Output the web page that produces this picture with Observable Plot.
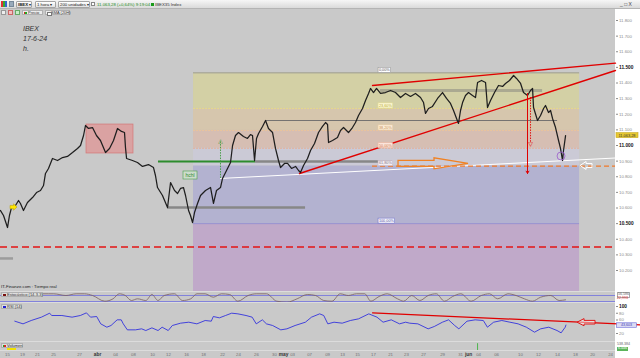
<!DOCTYPE html>
<html><head><meta charset="utf-8">
<script src="https://cdn.jsdelivr.net/npm/d3@7"></script>
<script src="https://cdn.jsdelivr.net/npm/@observablehq/plot@0.6"></script>
<style>
html,body{margin:0;padding:0;background:#c9c9c9;}
#root{position:relative;width:640px;height:358px;background:#c9c9c9;overflow:hidden;font-family:"Liberation Sans",Arial,sans-serif;}
.abs{position:absolute;}
.sep{position:absolute;left:0;width:615px;height:1px;background:#dcdcdc;}
.btn{position:absolute;top:1px;height:7px;border:1px solid #a4a4a4;background:linear-gradient(#ffffff,#e2e2e2);border-radius:1px;box-sizing:border-box;font-size:4.3px;line-height:5px;padding:0 1px;color:#222;white-space:nowrap;}
.t{position:absolute;white-space:nowrap;font-size:4.3px;line-height:5px;color:#333;}
.plbl{position:absolute;left:1px;height:5px;box-sizing:border-box;border:1px solid #b0b0b0;background:#dedede;font-size:4px;line-height:3.4px;padding:0 1px 0 5px;color:#333;white-space:nowrap;}
.plbl i{position:absolute;left:1px;top:0.5px;width:2.5px;height:2.5px;}
.ttl{position:absolute;left:23px;font:italic 7px "Liberation Sans",Arial,sans-serif;color:#333;}
</style></head>
<body><div id="root">
<div class="abs" style="left:615px;top:9px;width:25px;height:349px;background:#fff"></div>
<div id="main" class="abs" style="left:0;top:9px"></div>
<div id="stoch" class="abs" style="left:0;top:291px"></div>
<div id="rsi" class="abs" style="left:0;top:303px"></div>
<div id="vol" class="abs" style="left:0;top:342px"></div>
<div class="sep" style="top:291px"></div>
<div class="sep" style="top:302px"></div>
<div class="sep" style="top:341px"></div>
<div class="sep" style="top:350px"></div>

<!-- toolbar -->
<div class="abs" style="left:0;top:0;width:640px;height:9px;background:linear-gradient(#f6f6f6,#dadada);border-bottom:1px solid #b4b4b4;box-sizing:border-box"></div>
<div class="abs" style="left:1px;top:1px;width:6px;height:6px;background:linear-gradient(90deg,#d33 0 33%,#3a3 33% 66%,#36c 66%)"></div>
<div class="abs" style="left:9px;top:1px;width:5px;height:6px;background:#9ab;border:1px solid #789;box-sizing:border-box"></div>
<div class="btn" style="left:16px;width:16px"><b>IBEX</b> ▾</div>
<div class="btn" style="left:35px;width:21px">1 hora ▾</div>
<div class="btn" style="left:58px;width:32px">200 unidades ▾</div>
<div class="abs" style="left:91px;top:2px;width:4px;height:4px;background:#fff;border:1px solid #888;box-sizing:border-box"></div>
<div class="t" style="left:97px;top:2px;color:#1d8c1d">11.063,28 (+0,64%) 9:19:04</div>
<div class="abs" style="left:151px;top:3px;width:3px;height:3px;background:#1a9a1a"></div>
<div class="t" style="left:155px;top:2px">IBEX35 Index</div>
<div class="t" style="left:620px;top:1.5px;font-size:5px;color:#444">_ □ X</div>
<div class="abs" style="left:1px;top:10px;width:5px;height:5px;background:#eee;border:1px solid #999;box-sizing:border-box"></div>
<div class="abs" style="left:8px;top:10px;width:5px;height:5px;background:#f3c0c0;border:1px solid #c66;box-sizing:border-box"></div>
<div class="abs" style="left:15px;top:10px;width:5px;height:5px;background:#c8ecc8;border:1px solid #6a6;box-sizing:border-box"></div>
<div class="plbl" style="top:10px;left:22px;width:21px;background:#ececec"><i style="background:linear-gradient(90deg,#d22 50%,#2a2 50%)"></i>Precio</div>
<div class="plbl" style="top:10px;left:45px;width:25px;background:#ececec"><i style="background:#fff;border:0.5px solid #777"></i>SMA (20H)</div>

<div class="ttl" style="top:25px">IBEX</div>
<div class="ttl" style="top:35px">17-6-24</div>
<div class="ttl" style="top:45px">h.</div>

<div class="t" style="left:1px;top:284px;font-size:4.3px;color:#222">IT-Finanze.com : Tiempo real</div>
<div class="plbl" style="top:292px;width:42px"><i style="background:#7a1010"></i>Estocástico (14-3-3)</div>
<div class="plbl" style="top:304px;width:21px"><i style="background:#2020d0"></i>RSI (14)</div>
<div class="plbl" style="top:343px;width:22px"><i style="background:linear-gradient(90deg,#2a2 50%,#d22 50%)"></i>Volumen</div>
<div class="abs" style="left:7px;top:348px;width:9px;height:2px;background:#f2e200"></div>

<div class="t" style="left:617px;top:292px;font-size:3.6px;color:#666;border:0.5px solid #aaa;line-height:3.6px">56,586</div>
<div class="t" style="left:617px;top:297px;font-size:3.6px;color:#d22;line-height:3.6px">22,993</div>
<div class="t" style="left:617px;top:343px;font-size:3.6px;color:#666;line-height:3.6px">538.384</div>
<div class="t" style="left:617px;top:347px;font-size:3.6px;color:#fff;background:#5bb55b;line-height:3.6px;padding:0 1px">6.446</div>
</div>
<script>
// ================= DATA =================
// price path (hourly IBEX); x = trading-day index
const priceDay = [
 1.21,1.55,2.00,2.22,2.45,2.90,3.24,3.46,3.80,4.25,
 4.82,5.27,5.72,6.06,6.28,6.62,7.07,7.64,8.20,8.76,
 9.33,9.89,10.23,10.57,10.79,11.13,11.58,12.03,12.48,13.05,
 13.50,13.95,14.40,14.85,15.19,15.30,15.42,16.09,16.65,17.22,
 17.89,18.46,18.68,18.91,19.47,20.04,20.38,20.83,21.17,21.50,
 21.84,22.07,22.41,22.63,22.86,23.08,23.42,23.76,24.32,24.89,
 25.22,25.56,26.01,26.24,26.69,27.14,27.37,27.70,28.04,28.60,
 29.05,29.39,29.62,29.85,30.07,30.30,30.75,31.09,31.42,31.88,
 32.21,32.55,32.78,33.23,33.57,34.02,34.47,34.81,35.03,35.37,
 35.82,36.16,36.61,37.06,37.51,37.85,38.08,38.19,38.64,39.20,
 39.54,39.88,40.44,40.89,41.23,41.57,42.02,42.36,42.70,42.92,
 43.26,43.60,44.05,44.61,45.18,45.74,46.30,46.87,47.43,47.99,
 48.56,48.90,49.12,49.46,49.91,50.48,51.04,51.49,51.94,52.28,
 52.62,52.84,53.07,53.30,53.63,53.97,54.42,54.76,54.99,55.44,
 55.89,56.11,56.45,56.90,57.35,57.81,58.14,58.59,59.05,59.38,
 59.84,60.17,60.62,60.96,61.19,61.30,61.75,62.09,62.43,62.65,
 62.99,63.22,63.44,63.78,64.12,64.34,64.57,64.68,64.91];
const priceClose = [
 10584,10552,10475,10552,10603,10616,10648,10629,10584,10635,
 10667,10699,10712,10744,10821,10853,10917,10904,10923,10930,
 10955,10981,11000,11064,11128,11109,11115,11064,11032,10955,
 10981,11032,11109,11090,11083,10987,10917,10904,10891,10866,
 10878,10859,10808,10731,10680,10603,10763,10712,10693,10725,
 10731,10680,10584,10552,10507,10571,10629,10680,10712,10731,
 10629,10712,10731,10789,10840,10891,11000,11064,11083,11058,
 11045,11070,11064,10904,11045,11077,11122,11160,11109,11083,
 10981,10904,10859,10885,10885,10853,10866,10840,10827,10872,
 10917,10968,11013,11083,11122,11147,11134,11019,11032,11051,
 11096,11115,11083,11115,11147,11192,11237,11288,11333,11365,
 11339,11365,11333,11339,11352,11339,11307,11333,11314,11333,
 11307,11275,11205,11237,11250,11301,11339,11301,11269,11224,
 11173,11141,11224,11275,11320,11339,11320,11307,11403,11416,
 11403,11243,11288,11339,11384,11378,11397,11416,11448,11429,
 11397,11339,11320,11352,11365,11243,11160,11192,11237,11256,
 11211,11224,11173,11115,11032,10981,10904,10968,11063];
const lastPrice = 11063.28;

const priceTicks = [10200,10300,10400,10500,10600,10700,10800,10900,11000,11100,11200,11300,11400,11500,11600,11700,11800];
const xTickDay = [2.00,3.69,5.38,7.19,10.12,12.15,14.18,16.20,18.35,20.15,22.18,24.10,26.24,28.04,30.07,32.10,33.12,34.13,36.05,38.08,39.77,41.46,43.26,45.18,46.98,48.90,51.04,53.07,53.97,55.10,57.13,59.83,61.86,64.00,66.03,67.95,69.98];
const xTickLabel = ["15","19","21","25","27","abr","04","08","10","12","16","18","22","24","26","30","may","03","07","09","13","15","17","21","23","27","29","31","jun","04","06","10","12","14","18","20","24"];

// Fibonacci retracement
const fibHigh = 11465, fibLow = 10500;
const fibLevels = [0, 0.236, 0.382, 0.5, 0.618, 1, 1.618];
const fibLabels = ["0,00%","23,60%","38,20%","50,00%","61,80%","100,00%"];
const fibStartDay = 22.97, fibEndDay = 66.49, fibLabelDay = 43.83;

// annotations (day, price)
const boxDays = [10.91, 16.20], boxPrices = [10949, 11134];
const hchlPrice = 10898, hchlDays = [19.02, 29.96, 45.40], hchlLabelAt = [22.63, 10808];
const supportPrice = 10603, supportDays = [20.04, 35.60];
const resistPrice = 11160, resistDays = [31.09, 64.01];
const bandPrice = 11352, bandDays = [44.05, 62.32];
const lowPrice = 10277, lowDays = [1.21, 2.68];
const upperWedgeDay = [43.15, 70.54], upperWedgePrice = [11384, 11527];
const lowerWedgeDay = [34.92, 70.54], lowerWedgePrice = [10821, 11480];
const whiteLineDay = [26.01, 70.54], whiteLinePrice = [10789, 10920];
const redDashPrice = 10350;
const orangeDashDays = [43.15, 70.54];
const greenArrow = {day: 26.01, from: 10789, to: 11032};
const redArrow = {day: 60.62, from: 11333, to: 10821};
const redDotArrow = {day: 60.96, from: 11307, to: 11013};
const circleAt = [64.40, 10933];
const orangeArrow = {from: 46.08, to: 53.97, at: 10883};
const whiteArrow = {from: 67.95, to: 66.60, at: 10869};
const yellowArrow = {from: 2.34, to: 3.13, at: 10603};

// Stochastic (14-3-3)
const stochDay = [6.05,7.21,8.59,9.74,10.67,11.59,12.97,13.90,14.59,15.28,15.97,16.66,17.59,18.28,18.97,19.66,20.82,21.74,22.66,23.35,24.28,25.20,26.12,27.04,27.97,29.12,30.04,31.19,32.35,33.50,34.65,35.81,36.73,37.65,38.58,39.50,40.42,41.34,42.27,42.96,43.88,44.80,45.96,46.65,47.57,48.49,49.42,50.34,51.26,52.18,53.11,54.26,55.41,56.34,57.26,58.41,59.33,60.26,61.18,62.10,63.25,64.18,64.91];
const stochValue = [97,97,80,97,97,80,23,47,97,80,30,47,30,90,30,80,97,30,47,97,97,63,97,90,23,80,97,97,23,13,47,90,80,30,23,97,80,97,97,23,70,97,47,23,80,30,80,97,23,70,97,23,80,97,47,97,80,47,23,63,80,30,37];
const stochBands = [20, 80];

// RSI (14)
const rsiDay = [2.82,3.75,4.67,5.82,6.75,6.98,8.13,9.28,10.21,10.90,11.36,12.05,12.51,13.20,13.67,14.36,14.82,15.05,15.51,16.43,17.12,17.59,18.28,18.97,19.43,20.12,20.58,21.51,22.43,23.35,24.28,24.97,25.20,25.89,26.58,27.27,27.97,28.89,29.58,30.04,30.73,31.19,31.89,32.81,33.50,34.42,35.58,36.27,37.19,37.65,38.11,38.81,39.73,40.65,41.57,42.73,43.65,44.34,45.26,46.19,46.88,47.34,48.26,49.42,50.11,51.03,51.72,52.41,52.88,53.80,54.72,55.64,56.10,56.80,57.72,58.64,59.56,60.49,61.41,62.10,63.02,63.95,64.41,64.87,64.95];
const rsiValue = [56.5,48.6,58.5,68.4,80.2,73.3,73.3,68.4,73.3,81.2,68.4,70.3,48.6,38.7,43.7,60.5,60.5,48.6,30.8,30.8,33.8,28.8,36.7,28.8,38.7,28.8,43.7,50.6,53.5,48.6,58.5,56.5,70.3,66.4,73.3,80.2,78.2,73.3,68.4,48.6,60.5,48.6,43.7,30.8,33.8,43.7,53.5,68.4,78.2,73.3,48.6,53.5,50.6,58.5,63.4,78.2,68.4,53.5,60.5,48.6,53.5,50.6,48.6,33.8,40.7,53.5,60.5,43.7,33.8,56.5,60.5,58.5,38.7,53.5,58.5,53.5,48.6,38.7,23.9,33.8,38.7,28.8,21.9,38.7,45.0];
const rsiTicks = [20, 60, 80, 100];
const rsiLast = 43.603;
const rsiTrendDay = [43.15, 73.36], rsiTrendValue = [81.3, 45.2];
const rsiArrow = {from: 68.29, to: 66.26, at: 52};

// Volume
const volDay = [54.99], volValue = [538384];

// ================= STYLE / SCALES =================
const xDomain = [1.21, 70.54];
const yDomain = [10065.6, 11870.4];
const fibFill = ["#d3d0a5","#d6c6ad","#d6beb3","#cbcad6","#b3b2d0","#c0a9c9"];
const baseStyle = "background:transparent;overflow:visible;font-size:4.3px;font-family:'Liberation Sans',Arial,sans-serif;color:#8a8a8a;";
const fmtPrice = d => d3.format(",")(d).replace(/,/g, ".");
const fmtComma = (v, n) => d3.format("." + n + "f")(v).replace(".", ",");

const rows = (xs, ys) => xs.map((x, i) => ({x, y: ys[i]}));
const fibPrice = lv => fibHigh - lv * (fibHigh - fibLow);

function blockArrow({from, to, at, shaft, head, headLen, fill, stroke, sw = 0.9}) {
  return (index, scales) => {
    const X0 = scales.x(from), X1 = scales.x(to), Y = scales.y(at);
    const s = X1 > X0 ? 1 : -1;
    const hb = X1 - s * headLen;
    const p = [[X0, Y - shaft], [hb, Y - shaft], [hb, Y - head], [X1, Y], [hb, Y + head], [hb, Y + shaft], [X0, Y + shaft]];
    return d3.create("svg:path")
      .attr("d", "M" + p.map(q => q.join(",")).join("L") + "Z")
      .attr("fill", fill).attr("stroke", stroke).attr("stroke-width", sw)
      .attr("stroke-linejoin", "miter").node();
  };
}
function boxLabels(items) {
  return (index, scales) => {
    const g = d3.create("svg:g");
    for (const it of items) {
      const fs = it.fs || 4;
      const h = it.h || 5;
      const X = scales.x(it.x) + (it.dx || 0);
      const Y = scales.y(it.y) + (it.dy || 0);
      const W = it.w || (it.text.length * fs * 0.55 + 2);
      const top = it.center ? Y - h / 2 : Y - h;
      const left = it.middle ? X - W / 2 : X;
      g.append("rect").attr("x", left).attr("y", top).attr("width", W).attr("height", h)
        .attr("fill", it.fill).attr("stroke", it.stroke).attr("stroke-width", 0.6);
      g.append("text").attr("x", left + W / 2).attr("y", top + h / 2).attr("dy", "0.36em")
        .attr("text-anchor", "middle").attr("font-size", fs).attr("fill", it.color)
        .attr("font-weight", it.weight || "normal").text(it.text);
    }
    return g.node();
  };
}
function styleTexts(svg, boldSet, boldColor) {
  svg.querySelectorAll("text").forEach(t => {
    if (boldSet.has(t.textContent)) { t.style.fontWeight = "bold"; t.style.fill = boldColor; t.style.fontSize = "4.8px"; }
  });
}

// ================= MAIN PRICE PANEL =================
const priceRows = priceDay.map((d, i) => ({day: d, close: priceClose[i]}));
const fibBands = fibLevels.slice(0, -1).map((lv, i) => ({
  top: fibPrice(lv),
  bottom: Math.max(fibPrice(fibLevels[i + 1]), yDomain[0]),
  fill: fibFill[i]
}));
const fibLabelStyle = [
  {fill: "#ffffff", stroke: "#9a9a9a", color: "#555"},
  {fill: "#fbf8d8", stroke: "#e8e090", color: "#b8a830"},
  {fill: "#fbeedc", stroke: "#eccca0", color: "#c89050"},
  {fill: "#fbe6dc", stroke: "#eeb8a0", color: "#d07850"},
  {fill: "#f3eef3", stroke: "#c8b8c8", color: "#8a7a8a"},
  {fill: "#ffffff", stroke: "#7070c8", color: "#4646a0"}
];
const fibLabelItems = fibLabels.map((t, i) => ({
  x: fibLabelDay, y: fibPrice(fibLevels[i]), text: t, fs: 3.8, h: 5, ...fibLabelStyle[i]
}));

const main = Plot.plot({
  width: 640, height: 282,
  marginTop: 0, marginBottom: 0, marginLeft: 0, marginRight: 25,
  style: baseStyle,
  x: {domain: xDomain, axis: null},
  y: {domain: yDomain, axis: "right", ticks: priceTicks, tickFormat: fmtPrice, tickSize: 2, tickPadding: 1.5, label: null},
  color: {type: "identity"},
  marks: [
    Plot.rect(fibBands, {x1: fibStartDay, x2: fibEndDay, y1: "bottom", y2: "top", fill: "fill"}),
    Plot.ruleY([fibPrice(0)], {x1: fibStartDay, x2: fibEndDay, stroke: "#8e8e8e", strokeWidth: 0.8}),
    Plot.ruleY([fibPrice(0.236)], {x1: fibStartDay, x2: fibEndDay, stroke: "#ece27a", strokeWidth: 0.7, strokeDasharray: "2,1"}),
    Plot.ruleY([fibPrice(0.382)], {x1: fibStartDay, x2: fibEndDay, stroke: "#f2c690", strokeWidth: 0.7, strokeDasharray: "2,1"}),
    Plot.ruleY([fibPrice(0.5)], {x1: fibStartDay, x2: fibEndDay, stroke: "#f0a478", strokeWidth: 0.7, strokeDasharray: "2,1"}),
    Plot.ruleY([fibPrice(1)], {x1: fibStartDay, x2: fibEndDay, stroke: "#8c8cd2", strokeWidth: 0.8}),
    Plot.rect([0], {x1: boxDays[0], x2: boxDays[1], y1: boxPrices[0], y2: boxPrices[1], fill: "#daa2a2", stroke: "#d47c7c", strokeWidth: 0.8}),
    Plot.ruleY([lowPrice], {x1: lowDays[0], x2: lowDays[1], stroke: "#9c9c9c", strokeWidth: 2.5}),
    Plot.ruleY([supportPrice], {x1: supportDays[0], x2: supportDays[1], stroke: "#878787", strokeWidth: 2.5}),
    Plot.ruleY([hchlPrice], {x1: hchlDays[1], x2: hchlDays[2], stroke: "#878787", strokeWidth: 2.5}),
    Plot.ruleY([hchlPrice], {x1: hchlDays[0], x2: hchlDays[1], stroke: "#2d8c2d", strokeWidth: 2}),
    Plot.ruleY([resistPrice], {x1: resistDays[0], x2: resistDays[1], stroke: "#6a6a6a", strokeWidth: 0.9}),
    Plot.ruleY([bandPrice], {x1: bandDays[0], x2: bandDays[1], stroke: "#7a7a7a", strokeOpacity: 0.45, strokeWidth: 3}),
    Plot.line(rows(whiteLineDay, whiteLinePrice), {x: "x", y: "y", stroke: "#ffffff", strokeWidth: 1}),
    Plot.line(rows(upperWedgeDay, upperWedgePrice), {x: "x", y: "y", stroke: "#e00000", strokeWidth: 1.4}),
    Plot.line(rows(lowerWedgeDay, lowerWedgePrice), {x: "x", y: "y", stroke: "#e00000", strokeWidth: 1.4}),
    Plot.ruleY([redDashPrice], {x1: xDomain[0], x2: xDomain[1], stroke: "#e41414", strokeWidth: 1.5, strokeDasharray: "7,4"}),
    Plot.ruleY([fibPrice(0.618)], {x1: orangeDashDays[0], x2: orangeDashDays[1], stroke: "#f07a2a", strokeWidth: 1.2, strokeDasharray: "5,3"}),
    Plot.line(priceRows, {x: "day", y: "close", stroke: "#1e1e1e", strokeWidth: 1.25}),
    Plot.ruleX([greenArrow], {x: "day", y1: "from", y2: "to", stroke: "#3a9a3a", strokeWidth: 0.9, strokeDasharray: "1.5,1.2"}),
    Plot.text([greenArrow], {x: "day", y: "to", text: () => "△", fill: "#3a9a3a", fontSize: 6, fontFamily: "DejaVu Sans", dy: 0.5}),
    Plot.arrow([redArrow], {x1: "day", x2: "day", y1: "from", y2: "to", stroke: "#e00000", strokeWidth: 1, headLength: 4}),
    Plot.ruleX([redDotArrow], {x: "day", y1: "from", y2: "to", stroke: "#e00000", strokeWidth: 0.9, strokeDasharray: "1.5,1.2"}),
    Plot.text([redDotArrow], {x: "day", y: "to", text: () => "▽", fill: "#e00000", fontSize: 6, fontFamily: "DejaVu Sans", dy: 1}),
    Plot.dot([circleAt], {x: d => d[0], y: d => d[1], r: 4, stroke: "#9b5ccc", strokeWidth: 0.8, fill: "none"}),
    blockArrow({...orangeArrow, shaft: 3, head: 5.5, headLen: 34, fill: "none", stroke: "#f08224", sw: 1.3}),
    blockArrow({...whiteArrow, shaft: 2, head: 4, headLen: 6, fill: "none", stroke: "#ffffff", sw: 1}),
    blockArrow({...yellowArrow, shaft: 1.6, head: 3.2, headLen: 3.5, fill: "#ffe600", stroke: "#b8a000", sw: 0.5}),
    boxLabels(fibLabelItems),
    boxLabels([{x: hchlLabelAt[0], y: hchlLabelAt[1], text: "hchl", fs: 5, h: 8, w: 14, middle: true, center: true, fill: "#cddccd", stroke: "#4aa04a", color: "#2f8a2f"}]),
    boxLabels([{x: xDomain[1], y: lastPrice, dx: 1, text: fmtComma(lastPrice, 2).replace(/^(\d\d)/, "$1."), fs: 3.9, h: 5, w: 22, center: true, fill: "#e6c832", stroke: "#c8a820", color: "#333"}])
  ]
});
styleTexts(main, new Set(["11.500", "11.000", "10.500"]), "#111");
document.getElementById("main").appendChild(main);

// ================= STOCHASTIC =================
const stoch = Plot.plot({
  width: 640, height: 12, marginTop: 0, marginBottom: 0, marginLeft: 0, marginRight: 25,
  style: baseStyle,
  x: {domain: xDomain, axis: null},
  y: {domain: [0, 120], axis: null},
  marks: [
    Plot.ruleY(stochBands, {x1: xDomain[0], x2: xDomain[1], stroke: "#7070e0", strokeWidth: 0.8}),
    Plot.line(stochDay.map((d, i) => ({day: d, v: stochValue[i]})), {x: "day", y: "v", stroke: "#7a5e5e", strokeWidth: 0.8, curve: "monotone-x"})
  ]
});
document.getElementById("stoch").appendChild(stoch);

// ================= RSI =================
const rsi = Plot.plot({
  width: 640, height: 39, marginTop: 0, marginBottom: 0, marginLeft: 0, marginRight: 25,
  style: baseStyle,
  x: {domain: xDomain, axis: null},
  y: {domain: [-6.67, 108.89], axis: "right", ticks: rsiTicks, tickSize: 2, tickPadding: 1.5, label: null},
  marks: [
    Plot.line(rsiDay.map((d, i) => ({day: d, v: rsiValue[i]})), {x: "day", y: "v", stroke: "#2020e0", strokeWidth: 0.8}),
    Plot.line(rows(rsiTrendDay, rsiTrendValue), {x: "x", y: "y", stroke: "#e00000", strokeWidth: 1.2}),
    blockArrow({...rsiArrow, shaft: 1.8, head: 3.6, headLen: 7, fill: "rgba(255,255,255,0.45)", stroke: "#e01818", sw: 1}),
    boxLabels([{x: xDomain[1], y: rsiLast, dx: 1.5, text: fmtComma(rsiLast, 3), fs: 3.6, h: 4.5, w: 20, center: true, fill: "#dcdcf4", stroke: "#6a6ad8", color: "#3a3ab0"}])
  ]
});
styleTexts(rsi, new Set(["100"]), "#111");
document.getElementById("rsi").appendChild(rsi);

// ================= VOLUME + TIME AXIS =================
const tickMap = new Map(xTickDay.map((d, i) => [d, xTickLabel[i]]));
const vol = Plot.plot({
  width: 640, height: 16, marginTop: 0, marginBottom: 7, marginLeft: 0, marginRight: 25,
  style: baseStyle + "color:#707070;",
  x: {domain: xDomain, ticks: xTickDay, tickFormat: d => tickMap.get(d) ?? "", tickSize: 0, tickPadding: 1, label: null},
  y: {domain: [0, volValue[0] * 1.15], axis: null},
  marks: [
    Plot.ruleX(volDay.map((d, i) => ({day: d, v: volValue[i]})), {x: "day", y1: 0, y2: "v", stroke: "#2fb02f", strokeWidth: 0.8})
  ]
});
styleTexts(vol, new Set(["abr", "may", "jun"]), "#333");
document.getElementById("vol").appendChild(vol);
</script>
</body></html>
